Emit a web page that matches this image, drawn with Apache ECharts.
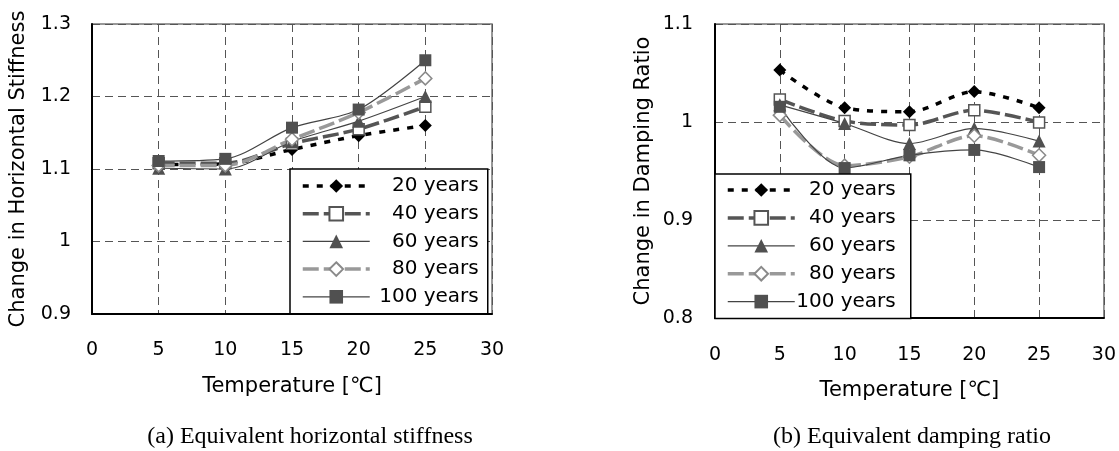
<!DOCTYPE html>
<html><head><meta charset="utf-8">
<script src="https://cdn.jsdelivr.net/npm/echarts@6/dist/echarts.min.js"></script>
<style>html,body{margin:0;padding:0;background:#fff}#c{width:1119px;height:451px}</style>
</head><body><div id="c"></div>
<script>
// ---- data ----
const temps = [5, 10, 15, 20, 25];
const seriesNames = ['20 years', '40 years', '60 years', '80 years', '100 years'];
// (a) Equivalent horizontal stiffness
const stiff20  = [1.106, 1.107, 1.127, 1.146, 1.160];
const stiff40  = [1.108, 1.108, 1.135, 1.155, 1.186];
const stiff60  = [1.101, 1.100, 1.138, 1.166, 1.200];
const stiff80  = [1.105, 1.105, 1.141, 1.178, 1.225];
const stiff100 = [1.111, 1.114, 1.157, 1.182, 1.250];
// (b) Equivalent damping ratio
const damp20  = [1.053, 1.0145, 1.0105, 1.031, 1.0145];
const damp40  = [1.023, 1.001, 0.997, 1.012, 0.9995];
const damp60  = [1.0175, 0.9985, 0.978, 0.9935, 0.9805];
const damp80  = [1.007, 0.9555, 0.9645, 0.986, 0.966];
const damp100 = [1.0155, 0.953, 0.966, 0.9715, 0.954];
const xTicks = { min: 0, max: 30, interval: 5 };
const yTicksA = { min: 0.9, max: 1.3, interval: 0.1 };
const yTicksB = { min: 0.8, max: 1.1, interval: 0.1 };
const captionA = '(a) Equivalent horizontal stiffness';
const captionB = '(b) Equivalent damping ratio';
const xName = 'Temperature [℃]';
const yNameA = 'Change in Horizontal Stiffness';
const yNameB = 'Change in Damping Ratio';

// ---- styles ----
const FONT = 'DejaVu Sans';
const styles = [
  { symbol: 'diamond', symbolSize: 13, line: { color: '#000', width: 3.5, type: [6, 8] }, item: { color: '#000', borderWidth: 0 } },
  { symbol: 'rect', symbolSize: 11, line: { color: '#555', width: 3.5, type: [16, 5] }, item: { color: '#fff', borderColor: '#555', borderWidth: 1.5 } },
  { symbol: 'triangle', symbolSize: 13, line: { color: '#444', width: 1.2, type: 'solid' }, item: { color: '#505050', borderWidth: 0 } },
  { symbol: 'diamond', symbolSize: 13, line: { color: '#999', width: 3.5, type: [16, 5] }, item: { color: '#fff', borderColor: '#8a8a8a', borderWidth: 1.5 } },
  { symbol: 'rect', symbolSize: 12, line: { color: '#444', width: 1.2, type: 'solid' }, item: { color: '#505050', borderWidth: 0 } }
];

function mkSeries(name, vals, st, gi) {
  return {
    type: 'line', name: name, xAxisIndex: gi, yAxisIndex: gi,
    data: temps.map((t, i) => [t, vals[i]]),
    smooth: 0.3, symbol: st.symbol, symbolSize: st.symbolSize, showSymbol: true,
    lineStyle: st.line, itemStyle: st.item, animation: false,
    emphasis: { disabled: true }
  };
}

function mkXAxis(gi, margin, gap) {
  return {
    type: 'value', gridIndex: gi, min: xTicks.min, max: xTicks.max, interval: xTicks.interval,
    name: xName, nameLocation: 'middle', nameGap: gap,
    nameTextStyle: { fontFamily: FONT, fontSize: 21, color: '#000' },
    axisLine: { show: true, onZero: false, lineStyle: { color: '#000', width: 2 } },
    axisTick: { show: false },
    axisLabel: { fontFamily: FONT, fontSize: 19, color: '#000', margin: margin },
    splitLine: { show: true, lineStyle: { color: '#555', width: 1, type: [8, 5] } }
  };
}
function mkYAxis(gi, ticks, name, gap, margin) {
  return {
    type: 'value', gridIndex: gi, min: ticks.min, max: ticks.max, interval: ticks.interval,
    name: name, nameLocation: 'middle', nameGap: gap,
    nameTextStyle: { fontFamily: FONT, fontSize: 21, color: '#000' },
    axisLine: { show: true, onZero: false, lineStyle: { color: '#000', width: 2 } },
    axisTick: { show: false },
    axisLabel: { fontFamily: FONT, fontSize: 19, color: '#000', margin: margin },
    splitLine: { show: true, lineStyle: { color: '#555', width: 1, type: [8, 5] } }
  };
}
function mkLegend(left, top, padding, gap, textW) {
  return {
    orient: 'vertical', left: left, top: top, padding: padding,
    itemWidth: 67, itemHeight: 17, itemGap: gap,
    borderColor: '#000', borderWidth: 1.5, backgroundColor: '#fff',
    selectedMode: false,
    data: seriesNames.map((n, i) => ({ name: n, lineStyle: { width: styles[i].line.width, type: styles[i].line.type, color: styles[i].line.color } })),
    formatter: n => '{t|' + n + '}',
    textStyle: { rich: { t: { width: textW, align: 'right', fontFamily: FONT, fontSize: 20, color: '#000', lineHeight: 20 } } }
  };
}

const seriesA = [stiff20, stiff40, stiff60, stiff80, stiff100];
const seriesB = [damp20, damp40, damp60, damp80, damp100];
const series = [];
seriesA.forEach((v, i) => series.push(mkSeries(seriesNames[i], v, styles[i], 0)));
seriesB.forEach((v, i) => series.push(mkSeries(seriesNames[i], v, styles[i], 1)));

const chart = echarts.init(document.getElementById('c'), null, { renderer: 'canvas' });
chart.setOption({
  animation: false,
  backgroundColor: '#fff',
  grid: [
    { left: 92, top: 24, width: 400, height: 290, show: true, borderColor: '#777', borderWidth: 1.5, backgroundColor: 'transparent' },
    { left: 715, top: 24, width: 390, height: 294, show: true, borderColor: '#777', borderWidth: 1.5, backgroundColor: 'transparent' }
  ],
  xAxis: [mkXAxis(0, 27, 62), mkXAxis(1, 28, 62)],
  yAxis: [mkYAxis(0, yTicksA, yNameA, 63, 21), mkYAxis(1, yTicksB, yNameB, 61, 22)],
  legend: [
    mkLegend(290, 169, [7, 9, 7, 11], 7.7, 104),
    mkLegend(715, 174, [6, 15, 7, 11], 7.9, 96)
  ],
  graphic: [
    { type: 'text', x: 310, y: 437, style: { text: captionA, font: '24px "Liberation Serif"', fill: '#000', align: 'center', verticalAlign: 'middle' } },
    { type: 'text', x: 912, y: 437, style: { text: captionB, font: '24px "Liberation Serif"', fill: '#000', align: 'center', verticalAlign: 'middle' } }
  ],
  series: series
});
</script></body></html>
